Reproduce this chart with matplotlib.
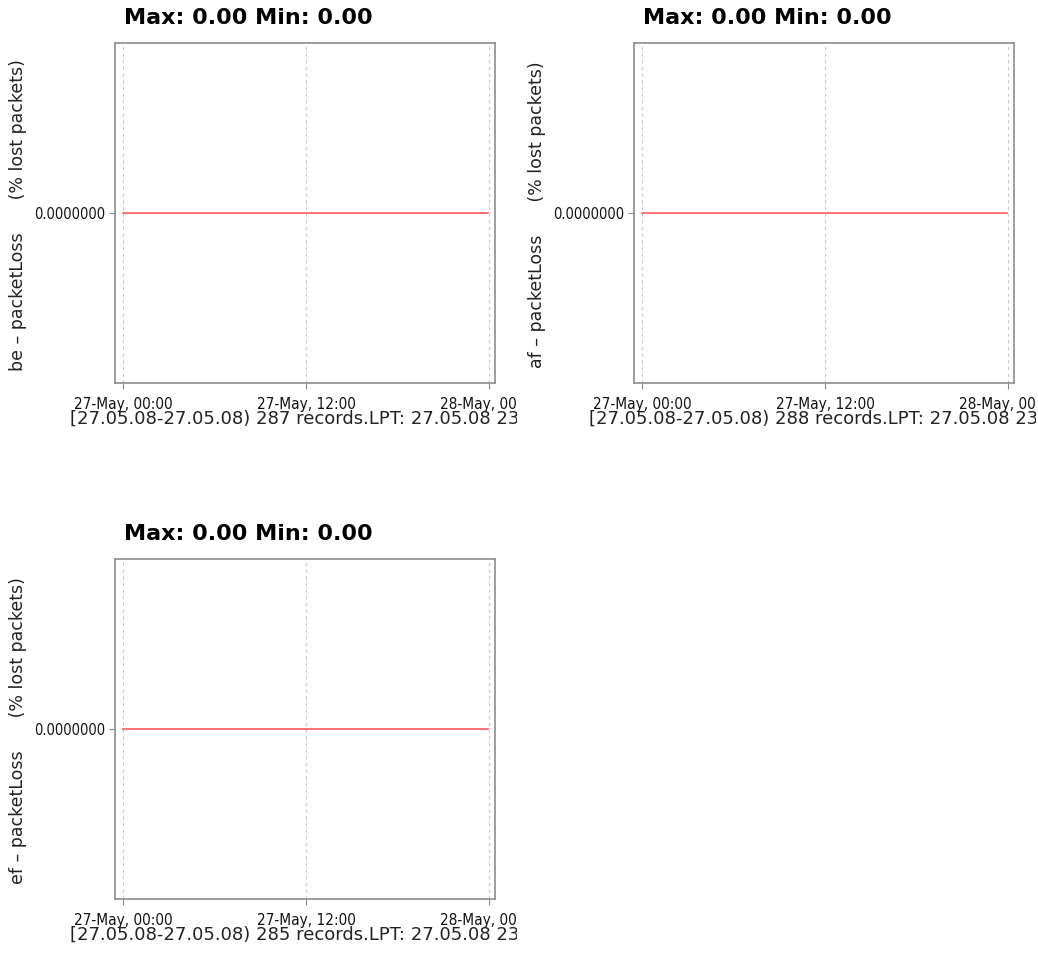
import matplotlib
matplotlib.use("Agg")
import matplotlib.pyplot as plt
from matplotlib.transforms import Bbox, TransformedBbox

W, H = 1038, 963

# data
series_names = ["be", "af", "ef"]
record_counts = [287, 288, 285]
hours = [0.0, 23.92]          # first and last sample (hours since 27-May 00:00)
loss_values = [[0.0, 0.0], [0.0, 0.0], [0.0, 0.0]]
x_ticks = [0, 12, 24]
x_tick_labels = ["27-May, 00:00", "27-May, 12:00", "28-May, 00:00"]
y_ticks = [0.0]
y_tick_labels = ["0.0000000"]
date_range = "[27.05.08-27.05.08)"
lpt = "27.05.08 23:55"


def fx(px):
    return px / W


def fy(py):
    return 1 - py / H


fig = plt.figure(figsize=(W / 100, H / 100), dpi=100)
fig.patch.set_facecolor("white")

# panel offsets (pixels)
offsets = [(0, 0), (519, 0), (0, 516)]

for i, name in enumerate(series_names):
    dx, dy = offsets[i]
    left, top, right, bottom = 115 + dx, 43 + dy, 495 + dx, 383 + dy
    ax = fig.add_axes([fx(left), fy(bottom), fx(right - left), (bottom - top) / H])

    ax.plot(hours, loss_values[i], color="#ff5a5a", lw=1.2)
    ax.set_xlim(-0.53, 24.4)
    ax.set_ylim(-1, 1)

    ax.set_xticks(x_ticks)
    ax.set_xticklabels(x_tick_labels, fontsize=11, fontstretch="condensed", color="#111111")
    ax.set_yticks(y_ticks)
    ax.set_yticklabels(y_tick_labels, fontsize=10.5, fontstretch="condensed", color="#111111")
    ax.tick_params(length=4, width=0.8, color="#888888")
    ax.tick_params(axis="x", pad=6)
    ax.tick_params(axis="y", pad=3)
    ax.grid(True, axis="x", ls=(0, (3, 3)), color="#c8c8c8", lw=0.8)
    for sp in ax.spines.values():
        sp.set_color("#8c8c8c")
        sp.set_linewidth(1.2)

    # clip region of this panel
    clip = TransformedBbox(Bbox.from_extents(fx(dx), fy(dy + 480), fx(dx + 517), fy(dy)),
                           fig.transFigure)
    for lab in ax.get_xticklabels():
        lab.set_clip_on(True)
        lab.set_clip_box(clip)

    fig.text(fx(248 + dx), fy(18 + dy), "Max: %.2f Min: %.2f" % (max(loss_values[i]), min(loss_values[i])),
             ha="center", va="center", fontsize=16, fontweight="bold")
    fig.text(fx(18 + dx), fy(215 + dy), "%s – packetLoss      (%% lost packets)" % name,
             rotation=90, ha="center", va="center", fontsize=12.5, color="#222222")
    t = fig.text(fx(70 + dx), fy(419 + dy),
                 "%s %d records.LPT: %s" % (date_range, record_counts[i], lpt),
                 ha="left", va="center", fontsize=13, color="#222222")
    t.set_clip_on(True)
    t.set_clip_box(clip)

fig.savefig("out.png", dpi=100)
